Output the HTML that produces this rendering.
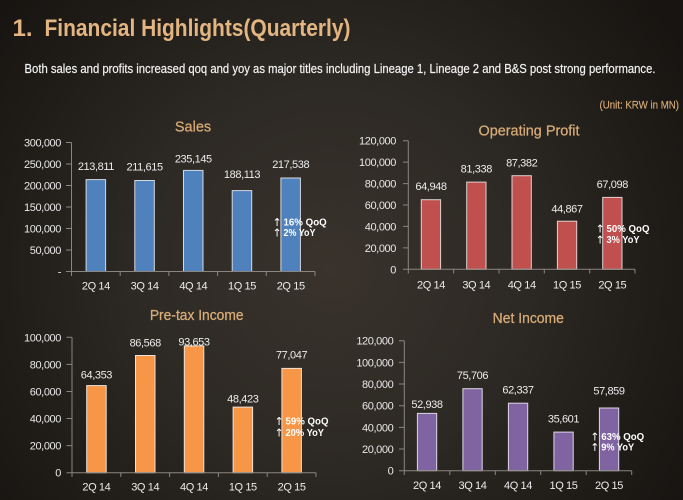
<!DOCTYPE html>
<html><head><meta charset="utf-8"><style>
html,body{margin:0;padding:0;background:#1c1916;}
svg{display:block;}
text{font-family:"Liberation Sans",sans-serif;}
.yl{fill:#e8e8e8;font-size:11px;letter-spacing:-0.4px;text-anchor:end;}
.xl{fill:#ececec;font-size:11px;letter-spacing:-0.4px;text-anchor:middle;}
.vl{fill:#ececec;font-size:11px;letter-spacing:-0.4px;text-anchor:middle;}
.ct{fill:#d8ac78;font-size:14.5px;text-anchor:middle;stroke:#d8ac78;stroke-width:0.25px;}
.an{fill:#ffffff;font-size:10px;font-weight:bold;}
.ar{fill:#ffffff;font-size:11px;font-family:"DejaVu Sans",sans-serif;font-weight:normal;}
.ax{stroke:#8a8580;stroke-width:1;fill:none;}
</style></head><body>
<svg width="683" height="500" viewBox="0 0 683 500" xmlns="http://www.w3.org/2000/svg">
<defs>
<radialGradient id="bg" cx="330" cy="270" r="420" gradientUnits="userSpaceOnUse">
<stop offset="0" stop-color="#39332c"/>
<stop offset="0.45" stop-color="#2d2924"/>
<stop offset="1" stop-color="#171411"/>
</radialGradient>
</defs>
<rect width="683" height="500" fill="url(#bg)"/>

<!-- header -->
<text x="12.5" y="36" fill="#e3b681" font-size="24" font-weight="bold">1.</text>
<text x="44.5" y="36" fill="#e3b681" font-size="24" font-weight="bold" textLength="306" lengthAdjust="spacingAndGlyphs">Financial Highlights(Quarterly)</text>
<text x="24.5" y="73" fill="#f2f2f2" font-size="12.5" stroke="#f2f2f2" stroke-width="0.2" textLength="631" lengthAdjust="spacingAndGlyphs">Both sales and profits increased qoq and yoy as major titles including Lineage 1, Lineage 2 and B&amp;S post strong performance.</text>
<text x="599.5" y="108.5" fill="#d8ac78" font-size="11" stroke="#d8ac78" stroke-width="0.15" textLength="79.5" lengthAdjust="spacingAndGlyphs">(Unit: KRW in MN)</text>

<!-- ===== Sales ===== -->
<text class="ct" x="193" y="131.5">Sales</text>
<g class="yl">
<text x="61" y="146.5">300,000</text>
<text x="61" y="168">250,000</text>
<text x="61" y="189.5">200,000</text>
<text x="61" y="211">150,000</text>
<text x="61" y="232.5">100,000</text>
<text x="61" y="254">50,000</text>
<text x="61" y="275.5">-</text>
</g>
<g fill="#4f81bd" stroke="#d4d9e0" stroke-width="1">
<rect x="86.1" y="179.6" width="19.5" height="91.9"/>
<rect x="134.8" y="180.5" width="19.5" height="91"/>
<rect x="183.5" y="170.4" width="19.5" height="101.1"/>
<rect x="232.2" y="190.6" width="19.5" height="80.9"/>
<rect x="280.9" y="178" width="19.5" height="93.5"/>
</g>
<path class="ax" d="M71.5 142.5V271.5H315 M66 142.5H71.5 M66 164H71.5 M66 185.5H71.5 M66 207H71.5 M66 228.5H71.5 M66 250H71.5 M66 271.5H71.5 M71.5 271.5V276 M120.2 271.5V276 M168.9 271.5V276 M217.6 271.5V276 M266.3 271.5V276 M315 271.5V276"/>
<g class="vl">
<text x="95.9" y="170">213,811</text>
<text x="144.6" y="170.7">211,615</text>
<text x="193.3" y="162.3">235,145</text>
<text x="242" y="178">188,113</text>
<text x="290.7" y="168">217,538</text>
</g>
<g class="xl">
<text x="95.9" y="289.7">2Q 14</text>
<text x="144.6" y="289.7">3Q 14</text>
<text x="193.3" y="289.7">4Q 14</text>
<text x="242" y="289.7">1Q 15</text>
<text x="290.7" y="289.7">2Q 15</text>
</g>
<text class="ar" x="272.5" y="226">↑</text><text class="an" x="283.5" y="225.5" textLength="43.2" lengthAdjust="spacingAndGlyphs">16% QoQ</text>
<text class="ar" x="272.5" y="236.7">↑</text><text class="an" x="283.5" y="236.2" textLength="32" lengthAdjust="spacingAndGlyphs">2% YoY</text>

<!-- ===== Operating Profit ===== -->
<text class="ct" x="529" y="135.5" textLength="101" lengthAdjust="spacingAndGlyphs">Operating Profit</text>
<g class="yl">
<text x="396" y="144.7">120,000</text>
<text x="396" y="166.1">100,000</text>
<text x="396" y="187.6">80,000</text>
<text x="396" y="209">60,000</text>
<text x="396" y="230.4">40,000</text>
<text x="396" y="251.9">20,000</text>
<text x="396" y="273.3">0</text>
</g>
<g fill="#c0504d" stroke="#e0d2d2" stroke-width="1">
<rect x="421.3" y="199.7" width="19.3" height="69.6"/>
<rect x="466.7" y="182.1" width="19.3" height="87.2"/>
<rect x="512" y="175.7" width="19.3" height="93.6"/>
<rect x="557.4" y="221.2" width="19.3" height="48.1"/>
<rect x="602.7" y="197.4" width="19.3" height="71.9"/>
</g>
<path class="ax" d="M408.3 140.7V269.3H635 M403 140.7H408.3 M403 162.1H408.3 M403 183.6H408.3 M403 205H408.3 M403 226.4H408.3 M403 247.9H408.3 M403 269.3H408.3 M408.3 269.3V273.5 M453.6 269.3V273.5 M499 269.3V273.5 M544.3 269.3V273.5 M589.7 269.3V273.5 M635 269.3V273.5"/>
<g class="vl">
<text x="431" y="190">64,948</text>
<text x="476.3" y="172.7">81,338</text>
<text x="521.7" y="166.3">87,382</text>
<text x="567" y="212.7">44,867</text>
<text x="612.3" y="188">67,098</text>
</g>
<g class="xl">
<text x="431" y="288.3">2Q 14</text>
<text x="476.3" y="288.3">3Q 14</text>
<text x="521.7" y="288.3">4Q 14</text>
<text x="567" y="288.3">1Q 15</text>
<text x="612.3" y="288.3">2Q 15</text>
</g>
<text class="ar" x="595.5" y="232.3">↑</text><text class="an" x="606.5" y="231.8" textLength="43" lengthAdjust="spacingAndGlyphs">50% QoQ</text>
<text class="ar" x="595.5" y="243.3">↑</text><text class="an" x="606.5" y="242.8" textLength="33" lengthAdjust="spacingAndGlyphs">3% YoY</text>

<!-- ===== Pre-tax Income ===== -->
<text class="ct" x="196.7" y="320" textLength="93.7" lengthAdjust="spacingAndGlyphs">Pre-tax Income</text>
<g class="yl">
<text x="61" y="341.3">100,000</text>
<text x="61" y="368.4">80,000</text>
<text x="61" y="395.5">60,000</text>
<text x="61" y="422.5">40,000</text>
<text x="61" y="449.6">20,000</text>
<text x="61" y="476.7">0</text>
</g>
<g fill="#f79646" stroke="#f0e2d6" stroke-width="1">
<rect x="86.7" y="385.6" width="19.5" height="87.1"/>
<rect x="135.5" y="355.5" width="19.5" height="117.2"/>
<rect x="184.3" y="345.9" width="19.5" height="126.8"/>
<rect x="233.1" y="407.1" width="19.5" height="65.6"/>
<rect x="281.9" y="368.4" width="19.5" height="104.3"/>
</g>
<path class="ax" d="M72 337.3V472.7H316 M66.5 337.3H72 M66.5 364.4H72 M66.5 391.5H72 M66.5 418.5H72 M66.5 445.6H72 M66.5 472.7H72 M72 472.7V477 M120.8 472.7V477 M169.6 472.7V477 M218.4 472.7V477 M267.2 472.7V477 M316 472.7V477"/>
<g class="vl">
<text x="96.4" y="378.7">64,353</text>
<text x="145.2" y="346.3">86,568</text>
<text x="194" y="345.3">93,653</text>
<text x="242.8" y="402.7">48,423</text>
<text x="291.6" y="358.7">77,047</text>
</g>
<g class="xl">
<text x="96.4" y="490.7">2Q 14</text>
<text x="145.2" y="490.7">3Q 14</text>
<text x="194" y="490.7">4Q 14</text>
<text x="242.8" y="490.7">1Q 15</text>
<text x="291.6" y="490.7">2Q 15</text>
</g>
<text class="ar" x="274.5" y="425">↑</text><text class="an" x="285.5" y="424.5" textLength="43" lengthAdjust="spacingAndGlyphs">59% QoQ</text>
<text class="ar" x="274.5" y="436.3">↑</text><text class="an" x="285.5" y="435.8" textLength="38.5" lengthAdjust="spacingAndGlyphs">20% YoY</text>

<!-- ===== Net Income ===== -->
<text class="ct" x="528.3" y="323" textLength="71.3" lengthAdjust="spacingAndGlyphs">Net Income</text>
<g class="yl">
<text x="393.3" y="344.7">120,000</text>
<text x="393.3" y="366.4">100,000</text>
<text x="393.3" y="388">80,000</text>
<text x="393.3" y="409.7">60,000</text>
<text x="393.3" y="431.4">40,000</text>
<text x="393.3" y="453">20,000</text>
<text x="393.3" y="474.7">0</text>
</g>
<g fill="#8064a2" stroke="#ddd6e6" stroke-width="1">
<rect x="417.4" y="413.4" width="19.3" height="57.3"/>
<rect x="462.9" y="388.7" width="19.3" height="82"/>
<rect x="508.4" y="403.2" width="19.3" height="67.5"/>
<rect x="553.9" y="432.1" width="19.3" height="38.6"/>
<rect x="599.4" y="408" width="19.3" height="62.7"/>
</g>
<path class="ax" d="M404.3 340.7V470.7H631.7 M399 340.7H404.3 M399 362.4H404.3 M399 384H404.3 M399 405.7H404.3 M399 427.4H404.3 M399 449H404.3 M399 470.7H404.3 M404.3 470.7V475 M449.8 470.7V475 M495.3 470.7V475 M540.7 470.7V475 M586.2 470.7V475 M631.7 470.7V475"/>
<g class="vl">
<text x="427" y="408">52,938</text>
<text x="472.5" y="379">75,706</text>
<text x="518" y="393.3">62,337</text>
<text x="563.5" y="422.7">35,601</text>
<text x="609" y="394.7">57,859</text>
</g>
<g class="xl">
<text x="427" y="489">2Q 14</text>
<text x="472.5" y="489">3Q 14</text>
<text x="518" y="489">4Q 14</text>
<text x="563.5" y="489">1Q 15</text>
<text x="609" y="489">2Q 15</text>
</g>
<text class="ar" x="590.2" y="440.7">↑</text><text class="an" x="601.2" y="440.2" textLength="43" lengthAdjust="spacingAndGlyphs">63% QoQ</text>
<text class="ar" x="590.2" y="451">↑</text><text class="an" x="601.2" y="450.5" textLength="33" lengthAdjust="spacingAndGlyphs">9% YoY</text>
</svg>
</body></html>
